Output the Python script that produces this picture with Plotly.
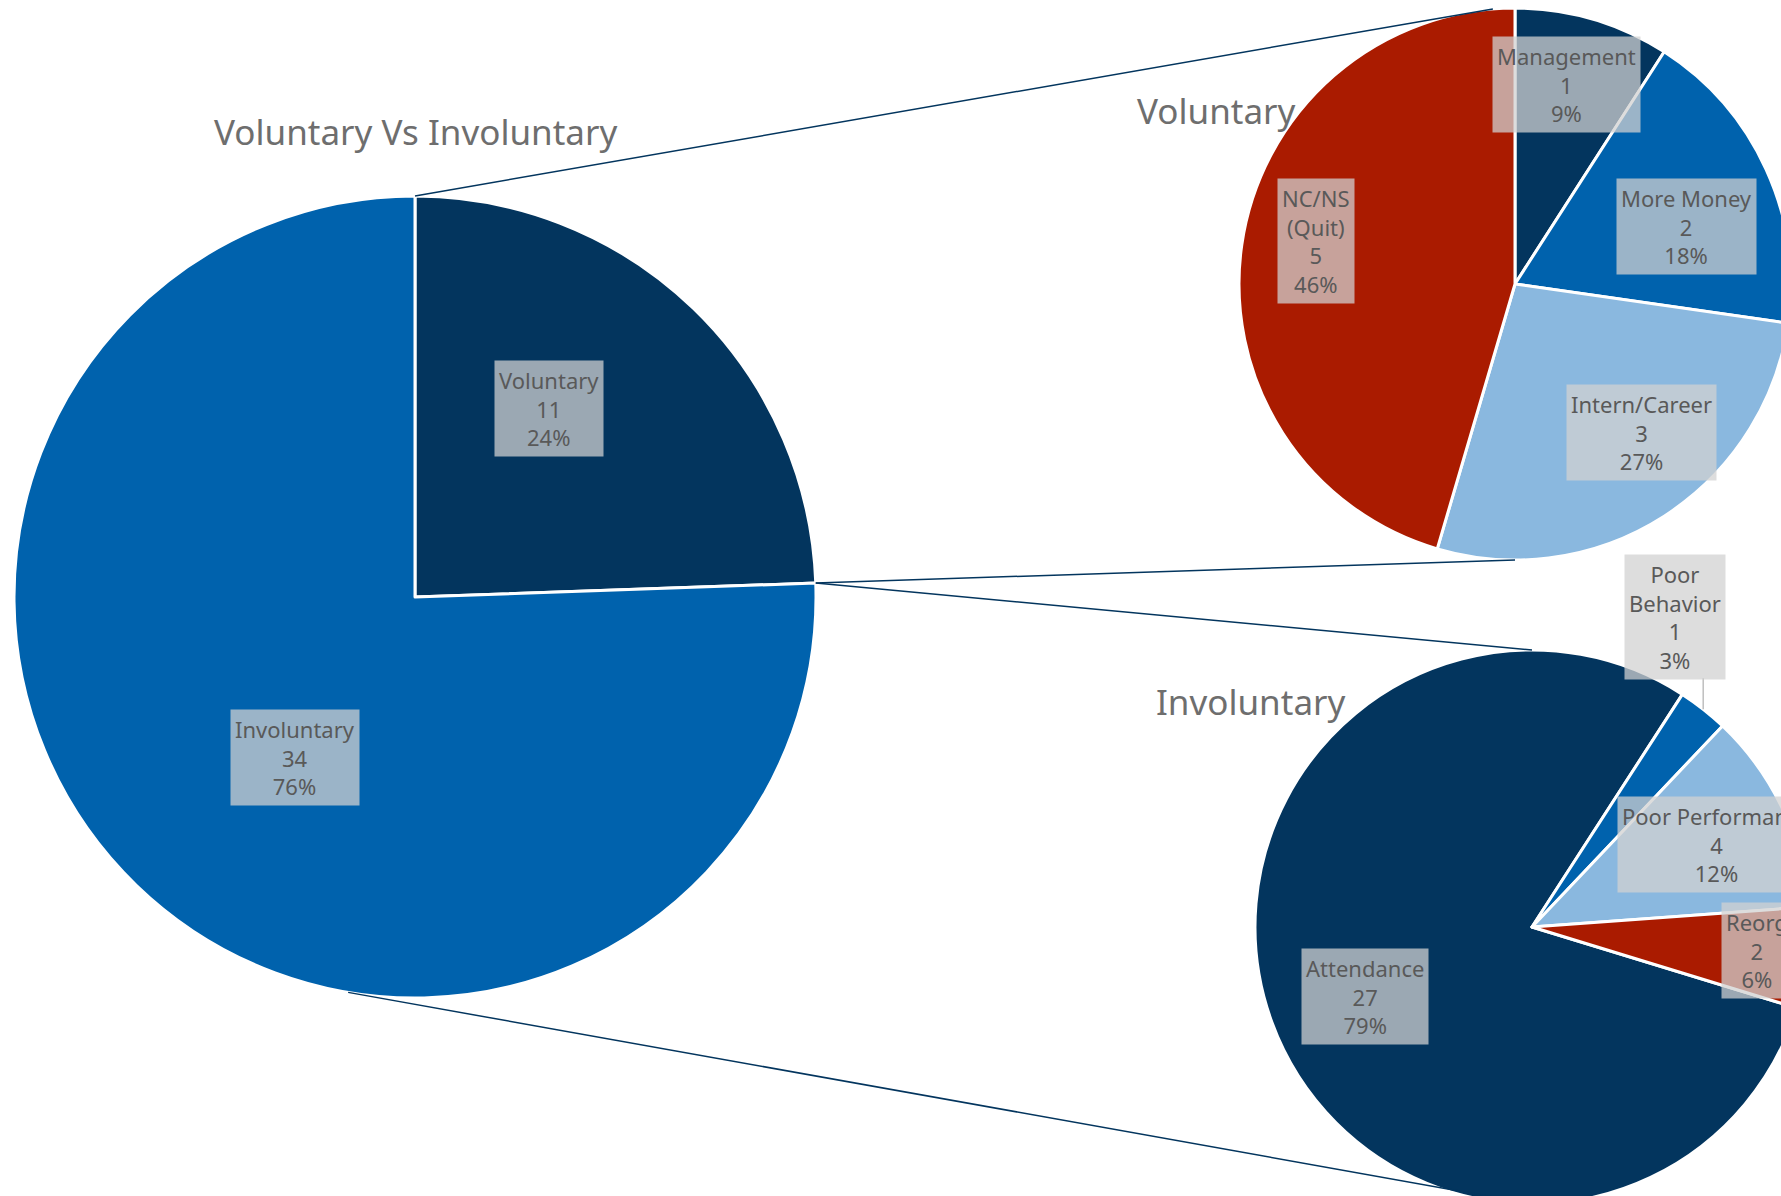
import math
import plotly.graph_objects as go

# ---- data -------------------------------------------------------------
overview_labels = ["Voluntary", "Involuntary"]
overview_values = [11, 34]

voluntary_labels = ["Management", "More Money", "Intern/Career", "NC/NS (Quit)"]
voluntary_values = [1, 2, 3, 5]

involuntary_labels = ["Attendance", "Poor Behavior", "Poor Performance", "Reorg"]
involuntary_values = [27, 1, 4, 2]

chart_titles = ["Voluntary Vs Involuntary", "Voluntary", "Involuntary"]

# ---- styling / layout ---------------------------------------------------
W, H = 1810, 1205          # canvas slightly wider/taller than the window, so the right pies are clipped
NAVY, BLUE, LIGHT, RED = "#03355E", "#0062AD", "#8AB8DF", "#AA1B00"
TEXT_GREY, TITLE_GREY = "#595959", "#6E6E6E"
FONT = "Noto Sans"
BOX_BG = "rgba(209,209,209,0.74)"

pies = [
    dict(labels=overview_labels, values=overview_values, colors=[NAVY, BLUE],
         cx=415, cy=597, r=401, rotation=0,
         label_pos=[(0.577, -8.7), (0.50, -7.2)],
         title_xy=(415, 131)),
    dict(labels=voluntary_labels, values=voluntary_values, colors=[NAVY, BLUE, LIGHT, RED],
         cx=1515, cy=284, r=276, rotation=0,
         label_pos=[(0.745, -2.0), (0.657, 6.0), (0.709, -7.7), (0.738, 4.1)],
         title_xy=(1216, 110)),
    dict(labels=involuntary_labels, values=involuntary_values, colors=[NAVY, BLUE, LIGHT, RED],
         cx=1532, cy=927, r=277, rotation=107,
         label_pos=[(0.654, -2.5), (1.233, -13.4), (0.73, 1.4), (0.815, -0.5)],
         title_xy=(1250, 701)),
]


def px(x):
    return x / W


def py(y):
    return 1 - y / H


def point_on(p, angle_deg, frac=1.0):
    a = math.radians(angle_deg)
    return (p["cx"] + frac * p["r"] * math.sin(a), p["cy"] - frac * p["r"] * math.cos(a))


def slice_angles(p):
    """start / end angle (deg, clockwise from 12 o'clock) of each slice"""
    total = sum(p["values"])
    out, a = [], p["rotation"]
    for v in p["values"]:
        span = 360.0 * v / total
        out.append((a, a + span))
        a += span
    return out


def rounded_percents(values):
    """whole percentages that add up to 100 (largest remainder)"""
    total = sum(values)
    raw = [100.0 * v / total for v in values]
    base = [math.floor(r) for r in raw]
    short = 100 - sum(base)
    order = sorted(range(len(raw)), key=lambda i: raw[i] - base[i], reverse=True)
    for i in order[:short]:
        base[i] += 1
    return base


def wrap(label):
    if label in ("NC/NS (Quit)", "Poor Behavior"):
        return label.replace(" ", "<br>")
    return label


fig = go.Figure()
annotations, shapes = [], []

for p in pies:
    fig.add_trace(go.Pie(
        labels=p["labels"], values=p["values"], sort=False, direction="clockwise",
        rotation=p["rotation"], textinfo="none", hoverinfo="skip",
        marker=dict(colors=p["colors"], line=dict(color="white", width=3)),
        domain=dict(x=[px(p["cx"] - p["r"]), px(p["cx"] + p["r"])],
                    y=[py(p["cy"] + p["r"]), py(p["cy"] - p["r"])]),
        showlegend=False,
    ))

    pct = rounded_percents(p["values"])
    for (a0, a1), lab, val, pc, (frac, nudge) in zip(
            slice_angles(p), p["labels"], p["values"], pct, p["label_pos"]):
        mid = (a0 + a1) / 2
        lx, ly = point_on(p, mid + nudge, frac)
        annotations.append(dict(
            x=px(lx), y=py(ly), xref="paper", yref="paper",
            text=f"{wrap(lab)}<br>{val}<br>{pc}%", showarrow=False,
            xanchor="center", yanchor="middle", align="center",
            bgcolor=BOX_BG, borderpad=4,
            font=dict(family=FONT, size=22, color=TEXT_GREY),
        ))
        if frac > 1:  # outside label: short leader line from the slice edge up to the box
            ex, ey = point_on(p, mid)
            box_bottom = ly + 4 * 22 * 1.3 / 2 + 4
            shapes.append(dict(type="line", xref="paper", yref="paper",
                               x0=px(ex), y0=py(ey), x1=px(ex), y1=py(box_bottom),
                               line=dict(color="#BFBFBF", width=1.5), layer="above"))

    tx, ty = p["title_xy"]
    annotations.append(dict(
        x=px(tx), y=py(ty), xref="paper", yref="paper", showarrow=False,
        text=chart_titles[pies.index(p)], xanchor="center", yanchor="middle",
        font=dict(family=FONT, size=35, color=TITLE_GREY),
    ))

# connector lines between the overview pie and the two breakdown pies
main, vol, invol = pies
split_angle = slice_angles(main)[0][1]
connectors = [
    ((main, 0), (vol, -4.6)),
    ((main, split_angle), (vol, 180)),
    ((main, split_angle), (invol, 0)),
    ((main, 189.6), (invol, 180)),
]
for (pa, aa), (pb, ab) in connectors:
    x0, y0 = point_on(pa, aa)
    x1, y1 = point_on(pb, ab)
    shapes.append(dict(type="line", xref="paper", yref="paper",
                       x0=px(x0), y0=py(y0), x1=px(x1), y1=py(y1),
                       line=dict(color=NAVY, width=1.5), layer="above"))

fig.update_layout(
    width=W, height=H, margin=dict(l=0, r=0, t=0, b=0, pad=0),
    paper_bgcolor="white", plot_bgcolor="white", showlegend=False,
    annotations=annotations, shapes=shapes,
    font=dict(family=FONT, color=TEXT_GREY),
)

fig.write_html(
    "out.html",
    post_script="document.body.style.margin='0';"
                "document.body.style.overflow='hidden';"
                "document.documentElement.style.overflow='hidden';",
)
